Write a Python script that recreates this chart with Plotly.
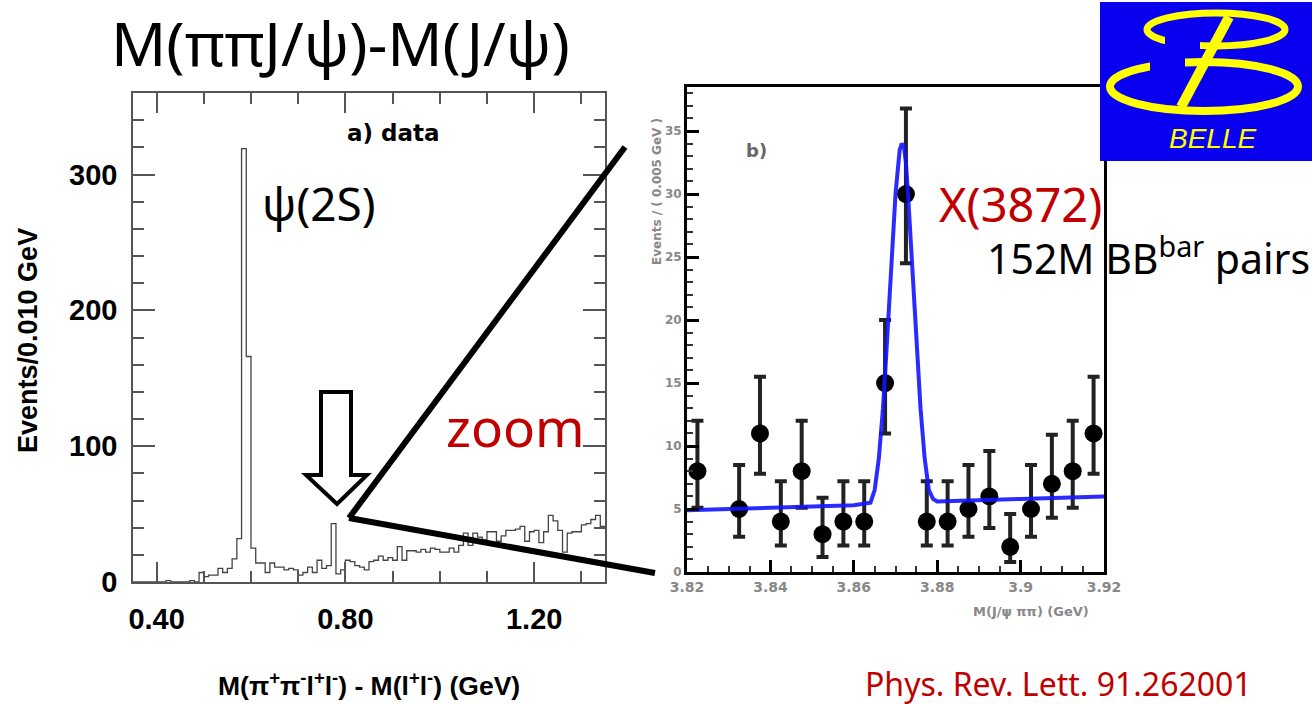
import numpy as np
import plotly.graph_objects as go

W, H = 1312, 704

# ---------------- data: left histogram (Events / 0.010 GeV) ----------------
hist_lo = 0.35
hist_bin = 0.01
hist_counts = [0, 0, 0, 0, 0, 0, 0, 1, 0, 0, 0, 0, 1, 0,
               7, 4, 5, 5, 10, 7, 10, 17, 32,
               319, 166,
               25, 14, 14, 7, 14, 11, 11, 9, 10, 9, 5, 7, 11, 7, 16, 10, 12,
               43,
               6, 9, 16, 15, 12, 11, 9, 15, 16, 19, 16, 18, 16, 26, 16, 23, 23, 22, 24, 22, 25, 24, 22, 22, 25, 22,
               27, 36, 27, 36, 33, 31, 37, 37, 30, 34, 38, 38, 39, 41, 30, 37, 38, 29, 37, 49, 45, 38, 22, 36, 37,
               37, 42, 43, 46, 49, 41]
left_xticks = [0.40, 0.80, 1.20]
left_xticklabels = ["0.40", "0.80", "1.20"]
left_yticks = [0, 100, 200, 300]

# ---------------- data: right plot (Events / 0.005 GeV) ----------------
x_mass = [3.8225, 3.8325, 3.8375, 3.8425, 3.8475, 3.8525, 3.8575, 3.8625, 3.8675, 3.8725,
          3.8775, 3.8825, 3.8875, 3.8925, 3.8975, 3.9025, 3.9075, 3.9125, 3.9175]
y_events = [8, 5, 11, 4, 8, 3, 4, 4, 15, 30, 4, 4, 5, 6, 2, 5, 7, 8, 11]
err_top = [12, 8.5, 15.5, 7.2, 12, 5.9, 7.2, 7.2, 20, 36.8, 7.2, 7.2, 8.5, 9.6, 4.6, 8.5, 10.9, 12, 15.5]
err_bottom = [5.1, 2.8, 7.8, 2.1, 5.1, 1.2, 2.1, 2.1, 11, 24.5, 2.1, 2.1, 2.8, 3.5, 0.8, 2.8, 4.3, 5.1, 7.8]
fit_x = [3.820, 3.840, 3.860, 3.864, 3.865, 3.866, 3.867, 3.868, 3.869, 3.870, 3.871, 3.8715,
         3.872, 3.8725, 3.873, 3.874, 3.875, 3.876, 3.877, 3.878, 3.879, 3.880, 3.900, 3.920]
fit_y = [4.9, 5.1, 5.3, 5.5, 6.5, 9, 13, 18.5, 24.5, 30, 33.5, 34, 33.8, 32.5, 30, 24.5,
         18.5, 13, 9, 6.5, 5.8, 5.6, 5.8, 6.0]
right_xticks = [3.82, 3.84, 3.86, 3.88, 3.90, 3.92]
right_xticklabels = ["3.82", "3.84", "3.86", "3.88", "3.9", "3.92"]
right_yticks = [0, 5, 10, 15, 20, 25, 30, 35]


def px(x):
    return x / W


def py(y):
    return 1 - y / H


edges = hist_lo + hist_bin * np.arange(len(hist_counts) + 1)
step_y = list(hist_counts) + [hist_counts[-1]]

fig = go.Figure()
fig.add_trace(go.Scatter(x=edges, y=step_y, mode="lines", line=dict(shape="hv", color="#444", width=1.3),
                         xaxis="x", yaxis="y", showlegend=False, hoverinfo="skip"))

plus = [t - v for t, v in zip(err_top, y_events)]
minus = [v - b for v, b in zip(y_events, err_bottom)]
fig.add_trace(go.Scatter(x=x_mass, y=y_events, mode="markers",
                         marker=dict(color="black", size=18),
                         error_y=dict(type="data", symmetric=False, array=plus, arrayminus=minus,
                                      color="#222", thickness=4, width=6),
                         xaxis="x2", yaxis="y2", showlegend=False))
fig.add_trace(go.Scatter(x=fit_x, y=fit_y, mode="lines", line=dict(color="rgba(20,20,255,0.9)", width=4),
                         xaxis="x2", yaxis="y2", showlegend=False))

axfont = dict(family="Liberation Sans", size=29, color="black", weight="bold")
smallx = dict(family="DejaVu Sans", size=14, color="#888", weight="bold")
smally = dict(family="DejaVu Sans", size=12, color="#888", weight="bold")

fig.update_layout(
    width=W, height=H, margin=dict(l=0, r=0, t=0, b=0, autoexpand=False),
    paper_bgcolor="white", plot_bgcolor="white", showlegend=False,
    xaxis=dict(domain=[px(133), px(605)], range=[0.35, 1.35], anchor="y", automargin=False,
               tickmode="array", tickvals=left_xticks, ticktext=left_xticklabels,
               ticks="inside", ticklen=20, tickwidth=1.5, tickcolor="#555",
               showline=True, linecolor="#555", linewidth=1.5, mirror="ticks",
               showgrid=False, zeroline=False, tickfont=axfont, ticklabelstandoff=10,
               minor=dict(tickvals=[0.4, 0.5, 0.6, 0.7, 0.8, 0.9, 1.0, 1.1, 1.2, 1.3],
                          ticks="inside", ticklen=11, tickcolor="#555", tickwidth=1.5)),
    yaxis=dict(domain=[py(582), py(93)], range=[0, 360], anchor="x", automargin=False,
               tickmode="array", tickvals=left_yticks,
               ticks="inside", ticklen=22, tickwidth=1.5, tickcolor="#555",
               showline=True, linecolor="#555", linewidth=1.5, mirror="ticks",
               showgrid=False, zeroline=False, tickfont=axfont, ticklabelstandoff=8,
               minor=dict(dtick=20, ticks="inside", ticklen=11, tickcolor="#555", tickwidth=1.5)),
    xaxis2=dict(domain=[px(687), px(1104)], range=[3.82, 3.92], anchor="y2", automargin=False,
                tickmode="array", tickvals=right_xticks, ticktext=right_xticklabels,
                ticks="inside", ticklen=12, tickwidth=2.5, tickcolor="black",
                showline=True, linecolor="black", linewidth=3, mirror=True,
                showgrid=False, zeroline=False, tickfont=smallx,
                minor=dict(dtick=0.005, ticks="inside", ticklen=6, tickcolor="#333", tickwidth=2)),
    yaxis2=dict(domain=[py(572), py(87)], range=[0, 38.5], anchor="x2", automargin=False,
                tickmode="array", tickvals=right_yticks,
                ticks="inside", ticklen=12, tickwidth=2.5, tickcolor="black",
                showline=True, linecolor="black", linewidth=3, mirror=True,
                showgrid=False, zeroline=False, tickfont=smally, ticklabelstandoff=0,
                minor=dict(dtick=1, ticks="inside", ticklen=6, tickcolor="#333", tickwidth=2)),
)

ann = []


def add_text(text, x, y, size, color="black", family="Noto Sans", weight="normal", angle=0,
             xanchor="center", style="normal"):
    ann.append(dict(text=text, x=px(x), y=py(y), xref="paper", yref="paper", showarrow=False,
                    xanchor=xanchor, yanchor="middle", textangle=angle,
                    font=dict(family=family, size=size, color=color, weight=weight, style=style)))


add_text("M(ππJ/ψ)-M(J/ψ)", 340, 42, 61)
add_text("ψ(2S)", 319, 203, 46)
add_text("a) data", 393, 133, 23, family="DejaVu Sans", weight="bold")
add_text("zoom", 515, 426, 53, color="#C00000")
add_text("X(3872)", 1020, 204, 47, color="#C00000")
add_text("152M BB<sup>bar</sup> pairs", 985, 256, 41, xanchor="left")
add_text("Phys. Rev. Lett. 91.262001", 1058, 683, 32, color="#C00000")
add_text("Events/0.010 GeV", 28, 341, 27, family="Liberation Sans", weight="bold", angle=-90)
add_text("M(π<sup>+</sup>π<sup>-</sup>l<sup>+</sup>l<sup>-</sup>) - M(l<sup>+</sup>l<sup>-</sup>) (GeV)",
         369, 684, 26.5, family="Liberation Sans", weight="bold")
add_text("Events / ( 0.005 GeV )", 657, 192, 12, color="#888", family="DejaVu Sans",
         weight="bold", angle=-90)
add_text("M(J/ψ ππ) (GeV)", 1031, 611, 13, color="#888", family="DejaVu Sans", weight="bold")
add_text("b)", 756, 150, 18, color="#666", family="DejaVu Sans", weight="bold")
add_text("BELLE", 1212, 138, 28, color="#FFFF00", family="Liberation Sans", style="italic")
fig.update_layout(annotations=ann)

shapes = []


def pline(x0, y0, x1, y1, width, color="black"):
    shapes.append(dict(type="line", xref="paper", yref="paper", x0=px(x0), y0=py(y0),
                       x1=px(x1), y1=py(y1), line=dict(color=color, width=width), layer="above"))


# zoom lines
pline(349, 518, 625, 147, 6)
pline(349, 518, 655, 573, 6)

# hollow arrow
arrow_pts = [(321, 392), (351, 392), (351, 475), (367, 475), (337, 504), (306, 475), (321, 475)]
path = "M " + " L ".join(f"{px(a):.5f},{py(b):.5f}" for a, b in arrow_pts) + " Z"
shapes.append(dict(type="path", xref="paper", yref="paper", path=path, fillcolor="white",
                   line=dict(color="black", width=4), layer="above"))

# Belle logo
shapes.append(dict(type="rect", xref="paper", yref="paper", x0=px(1100), x1=px(1312), y0=py(161), y1=py(2),
                   fillcolor="#0A00F0", line=dict(width=0), layer="above"))
shapes.append(dict(type="circle", xref="paper", yref="paper", x0=px(1147), x1=px(1285), y0=py(46), y1=py(13),
                   line=dict(color="#FFFF00", width=7), layer="above"))
shapes.append(dict(type="circle", xref="paper", yref="paper", x0=px(1110), x1=px(1298), y0=py(111), y1=py(62),
                   line=dict(color="#FFFF00", width=8), layer="above"))
shapes.append(dict(type="rect", xref="paper", yref="paper", x0=px(1165), x1=px(1200), y0=py(52), y1=py(36),
                   fillcolor="#0A00F0", line=dict(width=0), layer="above"))
shapes.append(dict(type="rect", xref="paper", yref="paper", x0=px(1150), x1=px(1185), y0=py(72), y1=py(56),
                   fillcolor="#0A00F0", line=dict(width=0), layer="above"))
pline(1229, 17, 1181, 107, 10, color="#FFFF00")

fig.update_layout(shapes=shapes)
fig.write_html("out.html", config={"displayModeBar": False},
               post_script="document.body.style.margin='0';document.body.style.overflow='hidden';")
